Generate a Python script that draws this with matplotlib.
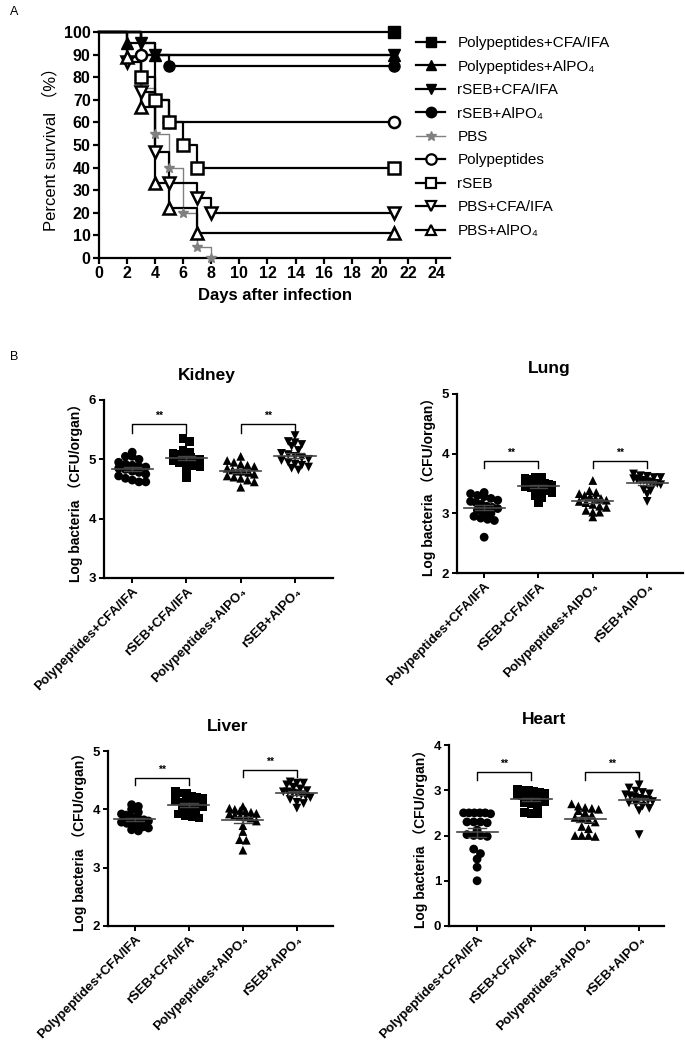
#!/usr/bin/env python3
import numpy as np
import matplotlib
matplotlib.use('Agg')
import matplotlib.pyplot as plt
from matplotlib.lines import Line2D

plt.rcParams['font.family'] = ['Liberation Sans', 'DejaVu Sans', 'Noto Sans CJK SC']

# ---- Panel A: survival data ----
surv_names = ['Polypeptides+CFA/IFA', 'Polypeptides+AlPO₄', 'rSEB+CFA/IFA', 'rSEB+AlPO₄',
              'PBS', 'Polypeptides', 'rSEB', 'PBS+CFA/IFA', 'PBS+AlPO₄']
surv_days = [
    [0, 21],
    [0, 2, 4, 21],
    [0, 3, 4, 21],
    [0, 3, 5, 21],
    [0, 3, 4, 5, 6, 7, 8],
    [0, 3, 4, 5, 21],
    [0, 3, 4, 5, 6, 7, 21],
    [0, 2, 3, 4, 5, 7, 8, 21],
    [0, 2, 3, 4, 5, 7, 21],
]
surv_pct = [
    [100, 100],
    [100, 95, 90, 90],
    [100, 95, 90, 90],
    [100, 90, 85, 85],
    [100, 75, 55, 40, 20, 5, 0],
    [100, 90, 70, 60, 60],
    [100, 80, 70, 60, 50, 40, 40],
    [100, 86.7, 73.3, 46.7, 33.3, 26.7, 20, 20],
    [100, 88.9, 66.7, 33.3, 22.2, 11.1, 11.1],
]
surv_markers = ['s', '^', 'v', 'o', '*', 'o', 's', 'v', '^']
surv_filled = [True, True, True, True, True, False, False, False, False]
surv_colors = ['black'] * 4 + ['gray'] + ['black'] * 4

# ---- Panel B: bacterial load data ----
groups = ['Polypeptides+CFA/IFA', 'rSEB+CFA/IFA', 'Polypeptides+AlPO₄', 'rSEB+AlPO₄']
group_markers = ['o', 's', '^', 'v']

kidney = [
    [5.12, 5.05, 5.05, 5.0, 4.95, 4.92, 4.9, 4.88, 4.87, 4.85, 4.83, 4.8, 4.78, 4.75, 4.72, 4.68, 4.65, 4.62, 4.62],
    [5.35, 5.3, 5.15, 5.12, 5.1, 5.08, 5.05, 5.05, 5.03, 5.0, 5.0, 4.98, 4.95, 4.92, 4.9, 4.88, 4.85, 4.7],
    [5.05, 4.98, 4.95, 4.92, 4.9, 4.88, 4.85, 4.82, 4.8, 4.8, 4.78, 4.75, 4.72, 4.7, 4.68, 4.65, 4.62, 4.53],
    [5.4, 5.3, 5.28, 5.25, 5.22, 5.15, 5.1, 5.08, 5.05, 5.02, 5.0, 4.98, 4.95, 4.92, 4.9, 4.87, 4.85, 4.82],
]
lung = [
    [3.35, 3.33, 3.3, 3.28, 3.25, 3.22, 3.2, 3.18, 3.15, 3.12, 3.1, 3.08, 3.05, 3.02, 3.0, 2.95, 2.92, 2.9, 2.88, 2.6],
    [3.6, 3.6, 3.58, 3.57, 3.55, 3.52, 3.5, 3.5, 3.48, 3.47, 3.45, 3.43, 3.4, 3.38, 3.35, 3.3, 3.27, 3.18],
    [3.55, 3.38, 3.35, 3.33, 3.3, 3.28, 3.25, 3.25, 3.22, 3.2, 3.18, 3.15, 3.12, 3.1, 3.05, 3.02, 3.02, 2.94],
    [3.66, 3.63, 3.62, 3.6, 3.6, 3.58, 3.57, 3.55, 3.55, 3.53, 3.52, 3.5, 3.5, 3.48, 3.4, 3.38, 3.32, 3.2],
]
liver = [
    [4.08, 4.05, 4.0, 3.95, 3.92, 3.9, 3.88, 3.85, 3.83, 3.82, 3.8, 3.78, 3.76, 3.75, 3.72, 3.7, 3.68, 3.65, 3.63],
    [4.3, 4.28, 4.27, 4.22, 4.2, 4.18, 4.15, 4.12, 4.1, 4.08, 4.05, 4.02, 4.0, 3.95, 3.92, 3.9, 3.87, 3.85],
    [4.05, 4.02, 4.0, 3.98, 3.97, 3.95, 3.93, 3.92, 3.9, 3.88, 3.87, 3.85, 3.8, 3.72, 3.62, 3.48, 3.47, 3.3],
    [4.47, 4.45, 4.45, 4.42, 4.38, 4.35, 4.32, 4.3, 4.3, 4.28, 4.27, 4.25, 4.22, 4.2, 4.17, 4.12, 4.1, 4.02],
]
heart = [
    [2.5, 2.5, 2.5, 2.5, 2.5, 2.48, 2.3, 2.3, 2.3, 2.28, 2.12, 2.02, 2.0, 2.0, 1.98, 1.7, 1.6, 1.48, 1.3, 1.0],
    [3.02, 3.0, 3.0, 2.98, 2.95, 2.92, 2.9, 2.88, 2.85, 2.82, 2.8, 2.78, 2.75, 2.72, 2.7, 2.65, 2.5, 2.48, 2.48],
    [2.7, 2.65, 2.62, 2.6, 2.58, 2.55, 2.5, 2.45, 2.4, 2.38, 2.35, 2.3, 2.2, 2.15, 2.0, 2.0, 2.0, 1.98],
    [3.12, 3.05, 2.98, 2.95, 2.92, 2.9, 2.88, 2.85, 2.82, 2.8, 2.78, 2.75, 2.72, 2.7, 2.65, 2.6, 2.55, 2.02],
]

organs = ['Kidney', 'Lung', 'Liver', 'Heart']
organ_data = [kidney, lung, liver, heart]
organ_ylim = [(3, 6), (2, 5), (2, 5), (0, 4)]
# bracket heights (top, leg bottom) for the two comparisons
organ_brackets = [
    [(5.6, 5.44), (5.6, 5.44)],
    [(3.88, 3.76), (3.88, 3.76)],
    [(4.54, 4.41), (4.68, 4.56)],
    [(3.41, 3.23), (3.41, 3.23)],
]


def spread(vals, binh, dx, maxw=0.5):
    # GraphPad-like column scatter: points in the same value bin sit side by side
    vals = np.asarray(vals)
    bins = np.round(vals / binh)
    offs = np.zeros(len(vals))
    for b in np.unique(bins):
        idx = np.where(bins == b)[0]
        n = len(idx)
        step = dx if n < 2 else min(dx, maxw / (n - 1))
        offs[idx] = (np.arange(n) - (n - 1) / 2) * step
    return offs


W, H = 685, 1049
fig = plt.figure(figsize=(W / 100, H / 100), dpi=100)


def rect(l, r, t, b):
    return [l / W, 1 - b / H, (r - l) / W, (b - t) / H]


# ---------------- Panel A ----------------
axA = fig.add_axes(rect(99, 450, 32, 258))
for name, d, p, m, f, c in zip(surv_names, surv_days, surv_pct, surv_markers, surv_filled, surv_colors):
    lw = 1.0 if name == 'PBS' else 1.6
    ms = 7 if name == 'PBS' else 8
    axA.plot(d, p, drawstyle='steps-post', color=c, lw=lw, clip_on=False, zorder=2)
    axA.plot(d[1:], p[1:], ls='none', marker=m, ms=ms, mew=1.8 if not f else 1,
             mfc=c if f else 'white', mec=c, clip_on=False, zorder=3)

axA.set_xlim(0, 25)
axA.set_ylim(0, 100)
axA.set_xticks(range(0, 25, 2))
axA.set_yticks(range(0, 101, 10))
for s in ['top', 'right']:
    axA.spines[s].set_visible(False)
for s in ['left', 'bottom']:
    axA.spines[s].set_linewidth(1.6)
axA.tick_params(width=1.6, length=4, labelsize=11.5, pad=2)
for t in axA.get_xticklabels() + axA.get_yticklabels():
    t.set_fontweight('bold')
axA.set_xlabel('Days after infection', fontsize=12, fontweight='bold', labelpad=5)
axA.set_ylabel('Percent survival （%）', fontsize=12, labelpad=4)

handles = []
for name, m, f, c in zip(surv_names, surv_markers, surv_filled, surv_colors):
    handles.append(Line2D([0], [0], color=c, lw=1.0 if name == 'PBS' else 1.6, marker=m,
                          ms=7.5, mfc=c if f else 'white', mec=c, mew=1.6 if not f else 1))
fig.legend(handles, surv_names, loc='upper left', bbox_to_anchor=(410 / W, 1 - 30 / H),
           frameon=False, fontsize=11, labelspacing=0.62, handlelength=1.9,
           handletextpad=0.8, borderaxespad=0)

fig.text(10 / W, 1 - 12 / H, 'A', fontsize=9, va='center')
fig.text(10 / W, 1 - 357 / H, 'B', fontsize=9, va='center')

# ---------------- Panel B ----------------
rects = [rect(104, 333, 400, 578), rect(457, 683, 394, 573),
         rect(108, 333, 751, 926), rect(449, 664, 745, 926)]
xlims = [(-0.52, 3.7), (-0.5, 3.66), (-0.5, 3.67), (-0.52, 3.46)]
title_x = [0.45, 0.41, 0.53, 0.44]

for ax_r, xl, tx, org, data, yl, br in zip(rects, xlims, title_x, organs, organ_data,
                                           organ_ylim, organ_brackets):
    ax = fig.add_axes(ax_r)
    axh_px = ax_r[3] * H
    binh = (yl[1] - yl[0]) * 7.5 / axh_px
    for i, (vals, m) in enumerate(zip(data, group_markers)):
        vals = np.asarray(vals)
        xs = i + spread(vals, binh, 0.125)
        ax.scatter(xs, vals, marker=m, s=40, color='black', edgecolors='none', zorder=2)
        mu = vals.mean()
        sem = vals.std(ddof=1) / np.sqrt(len(vals))
        ax.plot([i - 0.38, i + 0.38], [mu, mu], color='#444444', lw=1.2, zorder=3)
        ax.plot([i, i], [mu - sem, mu + sem], color='#444444', lw=1.0, zorder=3)
        for v in (mu - sem, mu + sem):
            ax.plot([i - 0.16, i + 0.16], [v, v], color='#444444', lw=1.0, zorder=3)
    # significance brackets
    for (top, leg), (a, b) in zip(br, [(0, 1), (2, 3)]):
        ax.plot([a, a, b, b], [leg, top, top, leg], color='black', lw=1.0)
        ax.text((a + b) / 2, top + (yl[1] - yl[0]) * 0.015, '**', ha='center', va='bottom',
                fontsize=7.5, fontweight='bold')
    ax.set_xlim(*xl)
    ax.set_ylim(*yl)
    ax.set_yticks(range(yl[0], yl[1] + 1))
    ax.set_xticks(range(4))
    ax.set_xticklabels(groups, rotation=45, ha='right', rotation_mode='anchor',
                       fontsize=9, fontweight='bold')
    for t in ax.get_yticklabels():
        t.set_fontweight('bold')
    for s in ['top', 'right']:
        ax.spines[s].set_visible(False)
    for s in ['left', 'bottom']:
        ax.spines[s].set_linewidth(1.6)
    ax.tick_params(width=1.4, length=3.5, labelsize=9.5, pad=2)
    ax.set_ylabel('Log bacteria （CFU/organ）', fontsize=10, fontweight='bold', labelpad=4)
    ax.text(tx, 1.14, org, transform=ax.transAxes, ha='center', va='center',
            fontsize=12.5, fontweight='bold')

fig.savefig('out.png', dpi=100, facecolor='white')
